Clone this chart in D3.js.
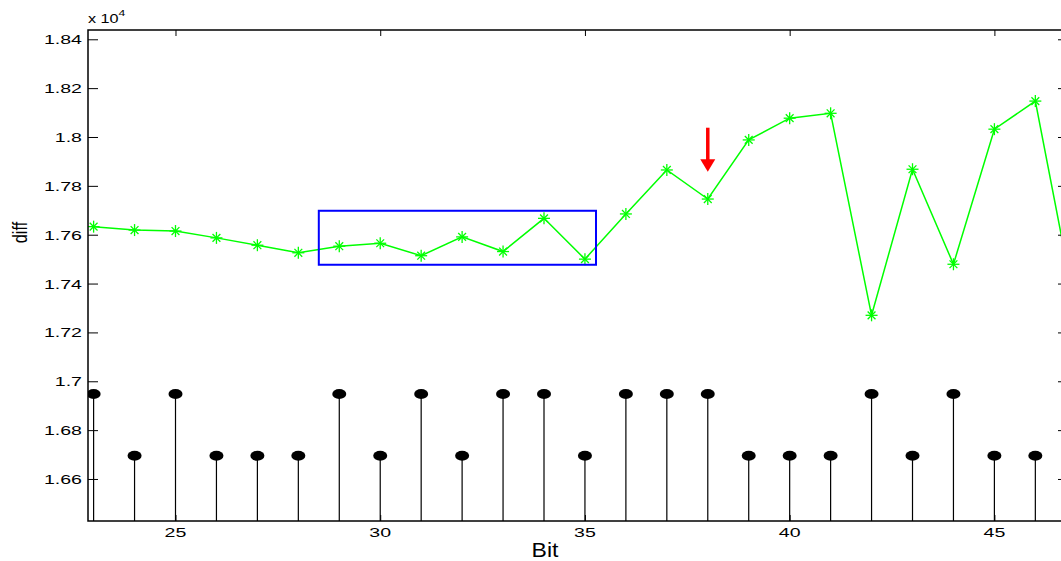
<!DOCTYPE html>
<html><head><meta charset="utf-8">
<script src="https://cdn.jsdelivr.net/npm/d3@7"></script>
<style>
html,body{margin:0;padding:0;background:#fff;}
svg{display:block;font-family:"Liberation Sans",Arial,Helvetica,sans-serif;}
</style></head>
<body>
<svg id="chart" width="1061" height="561"></svg>
<script>
// ---- data ----
const bits = [23,24,25,26,27,28,29,30,31,32,33,34,35,36,37,38,39,40,41,42,43,44,45,46,47];
const diffValues = [17633,17619,17615,17587,17557,17526,17553,17565,17514,17591,17531,17667,17500,17685,17865,17746,17988,18077,18097,17270,17868,17479,18032,18147,17280];
const stemBits = [23,24,25,26,27,28,29,30,31,32,33,34,35,36,37,38,39,40,41,42,43,44,45,46];
const stemValues = [16948,16695,16948,16695,16695,16695,16948,16695,16948,16695,16948,16948,16695,16948,16948,16948,16695,16695,16695,16948,16695,16948,16695,16695];
const xTicks = [25,30,35,40,45];
const yTicks = [16600,16800,17000,17200,17400,17600,17800,18000,18200,18400];
const yTickLabels = ["1.66","1.68","1.7","1.72","1.74","1.76","1.78","1.8","1.82","1.84"];
const boxX = [28.5, 35.27];
const boxY = [17477, 17698];
const arrowX = 38;
const arrowY = [18038, 17858];
const xLabel = "Bit";
const yLabel = "diff";

// ---- layout ----
const L = 88, R = 1064, T = 30, B = 521;
const SX = 1.45; // horizontal stretch of the original raster text
const x = d3.scaleLinear().domain([22.863, 46.70]).range([L, R]);
const y = d3.scaleLinear().domain([16428, 18438]).range([B, T]);

const svg = d3.select("#chart");
svg.append("defs").append("clipPath").attr("id","clip")
  .append("rect").attr("x",L).attr("y",T).attr("width",R-L).attr("height",B-T);

const plot = svg.append("g").attr("clip-path","url(#clip)");

// stems
plot.selectAll("line.stem").data(stemBits).enter().append("line")
  .attr("class","stem")
  .attr("x1",d=>x(d)).attr("x2",d=>x(d))
  .attr("y1",B+5).attr("y2",(d,i)=>y(stemValues[i]))
  .attr("stroke","#000").attr("stroke-width",1.2);
plot.selectAll("ellipse.head").data(stemBits).enter().append("ellipse")
  .attr("cx",d=>x(d)).attr("cy",(d,i)=>y(stemValues[i]))
  .attr("rx",7).attr("ry",5).attr("fill","#000");

// green line
const line = d3.line().x((d,i)=>x(bits[i])).y(d=>y(d));
plot.append("path").datum(diffValues).attr("d",line)
  .attr("fill","none").attr("stroke","#00ff00").attr("stroke-width",1.5);

// asterisk markers
const ms = 6;
const mk = plot.selectAll("g.mk").data(diffValues).enter().append("g")
  .attr("transform",(d,i)=>`translate(${x(bits[i])},${y(d)})`);
[[-ms,0,ms,0],[0,-ms,0,ms],[-ms*0.65,-ms*0.65,ms*0.65,ms*0.65],[-ms*0.65,ms*0.65,ms*0.65,-ms*0.65]].forEach(s=>{
  mk.append("line").attr("x1",s[0]).attr("y1",s[1]).attr("x2",s[2]).attr("y2",s[3])
    .attr("stroke","#00ff00").attr("stroke-width",1.3);
});

// blue box
plot.append("rect")
  .attr("x",x(boxX[0])).attr("y",y(boxY[1]))
  .attr("width",x(boxX[1])-x(boxX[0])).attr("height",y(boxY[0])-y(boxY[1]))
  .attr("fill","none").attr("stroke","#0000ff").attr("stroke-width",2);

// red arrow
const ax = x(arrowX), ay0 = y(arrowY[0]), ay1 = y(arrowY[1]);
plot.append("line").attr("x1",ax).attr("x2",ax).attr("y1",ay0).attr("y2",ay1-10)
  .attr("stroke","#ff0000").attr("stroke-width",3.5);
plot.append("path")
  .attr("d",`M${ax-7.5},${ay1-12.5}L${ax+7.5},${ay1-12.5}L${ax},${ay1}Z`)
  .attr("fill","#ff0000");

// axes (ticks only, labels drawn separately)
const axisStyle = g => { g.select(".domain").remove(); g.selectAll("line").attr("stroke","#000").attr("stroke-width",1); g.selectAll("text").remove(); };

svg.append("g").attr("transform",`translate(0,${B})`)
  .call(d3.axisBottom(x).tickValues(xTicks).tickSize(-6))
  .call(axisStyle);
svg.append("g").attr("transform",`translate(0,${T})`)
  .call(d3.axisTop(x).tickValues(xTicks).tickSize(-6))
  .call(axisStyle);
svg.append("g").attr("transform",`translate(${L},0)`)
  .call(d3.axisLeft(y).tickValues(yTicks).tickSize(-10))
  .call(axisStyle);
svg.append("g").attr("transform",`translate(${R},0)`)
  .call(d3.axisRight(y).tickValues(yTicks).tickSize(-6))
  .call(axisStyle);

// tick labels
svg.append("g").selectAll("text").data(xTicks).enter().append("text")
  .attr("transform",d=>`translate(${x(d)},537) scale(${SX},1)`)
  .attr("text-anchor","middle").style("font-size","13.5px").attr("fill","#000")
  .text(d3.format("d"));
svg.append("g").selectAll("text").data(yTicks).enter().append("text")
  .attr("transform",d=>`translate(82,${y(d)+5}) scale(${SX},1)`)
  .attr("text-anchor","end").style("font-size","13.5px").attr("fill","#000")
  .text((d,i)=>yTickLabels[i]);

// box frame
svg.append("rect").attr("x",L).attr("y",T).attr("width",R-L).attr("height",B-T)
  .attr("fill","none").attr("stroke","#000").attr("stroke-width",1.5);

// exponent label
const ex = svg.append("text").attr("transform",`translate(88,23) scale(1.35,1)`).style("font-size","12px").attr("fill","#000");
ex.append("tspan").text("x 10");
ex.append("tspan").attr("dy",-7).style("font-size","9px").text("4");

// axis labels
svg.append("text").attr("transform",`translate(545,557) scale(1.15,1)`).attr("text-anchor","middle")
  .style("font-size","20px").attr("fill","#000").text(xLabel);
svg.append("text").attr("transform",`translate(27,232.5) rotate(-90) scale(0.95,1.15)`).attr("text-anchor","middle")
  .style("font-size","17px").attr("fill","#000").text(yLabel);
</script>
</body></html>
